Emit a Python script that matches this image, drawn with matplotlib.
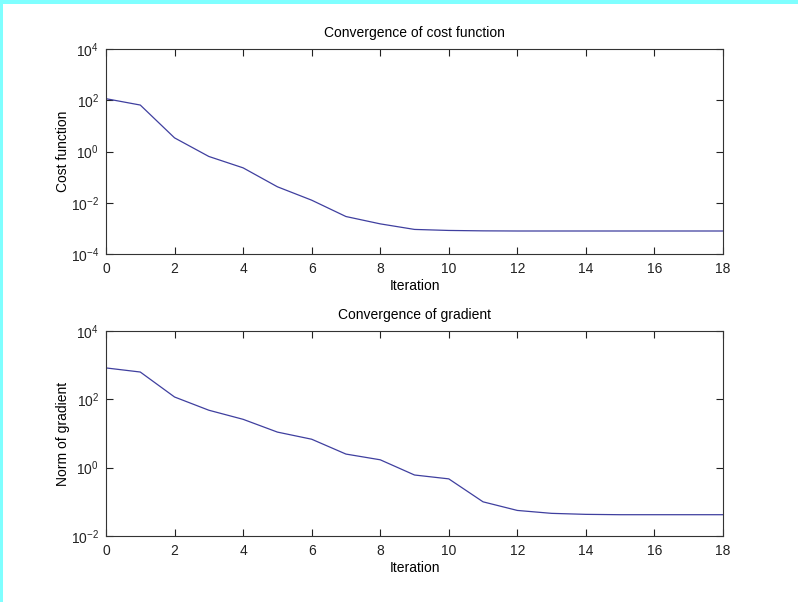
import matplotlib
matplotlib.use("Agg")
import matplotlib.pyplot as plt
from matplotlib.patches import Rectangle
import numpy as np

iterations = list(range(19))
cost = [115, 65, 3.4, 0.64, 0.23, 0.042, 0.0126, 0.0029, 0.0015, 0.00091,
        0.00083, 0.00080, 0.00079, 0.00079, 0.00079, 0.00079, 0.00079, 0.00079, 0.00079]
grad_norm = [830, 630, 117, 48, 26, 11, 6.8, 2.5, 1.7, 0.61,
             0.47, 0.10, 0.056, 0.046, 0.043, 0.042, 0.042, 0.042, 0.042]
x_ticks = [0, 2, 4, 6, 8, 10, 12, 14, 16, 18]
cost_yticks = [1e-4, 1e-2, 1e0, 1e2, 1e4]
grad_yticks = [1e-2, 1e0, 1e2, 1e4]

plt.rcParams['font.family'] = ['Liberation Sans', 'DejaVu Sans']
plt.rcParams['mathtext.fontset'] = 'custom'
plt.rcParams['mathtext.rm'] = 'Liberation Sans'
plt.rcParams['mathtext.default'] = 'regular'

fig = plt.figure(figsize=(7.98, 6.02), dpi=100)
fig.patches.append(Rectangle((0, 1 - 4/602), 1, 4/602, transform=fig.transFigure,
                             facecolor='#7fffff', edgecolor='none', zorder=10))
fig.patches.append(Rectangle((0, 0), 3/798, 1, transform=fig.transFigure,
                             facecolor='#7fffff', edgecolor='none', zorder=10))

ax1 = fig.add_axes([106/798, (602-254)/602, 617/798, 205/602])
ax2 = fig.add_axes([106/798, (602-536)/602, 617/798, 205/602])

line_color = '#3f3f9f'
fs = 10

def style(ax, yticks, ylim, ylabel, title, data):
    ax.plot(iterations, data, color=line_color, lw=0.9)
    ax.set_yscale('log')
    ax.set_xlim(0, 18)
    ax.set_ylim(*ylim)
    ax.set_xticks(x_ticks)
    ax.set_xticklabels([str(t) for t in x_ticks])
    ax.set_yticks(yticks)
    ax.yaxis.set_minor_locator(matplotlib.ticker.NullLocator())
    ax.tick_params(direction='in', top=True, right=True, length=5, width=0.8,
                   labelsize=fs, colors='#222222')
    ax.tick_params(axis='x', pad=6)
    ax.tick_params(axis='y', pad=5)
    for s in ax.spines.values():
        s.set_color('#333333')
        s.set_linewidth(0.8)
    ax.set_xlabel('Iteration', fontsize=fs, labelpad=2)
    ax.set_ylabel(ylabel, fontsize=fs, labelpad=0.5)
    ax.set_title(title, fontsize=fs, pad=9)

style(ax1, cost_yticks, (1e-4, 1e4), 'Cost function', 'Convergence of cost function', cost)
style(ax2, grad_yticks, (1e-2, 1e4), 'Norm of gradient', 'Convergence of gradient', grad_norm)

fig.savefig('out.png', dpi=100)
